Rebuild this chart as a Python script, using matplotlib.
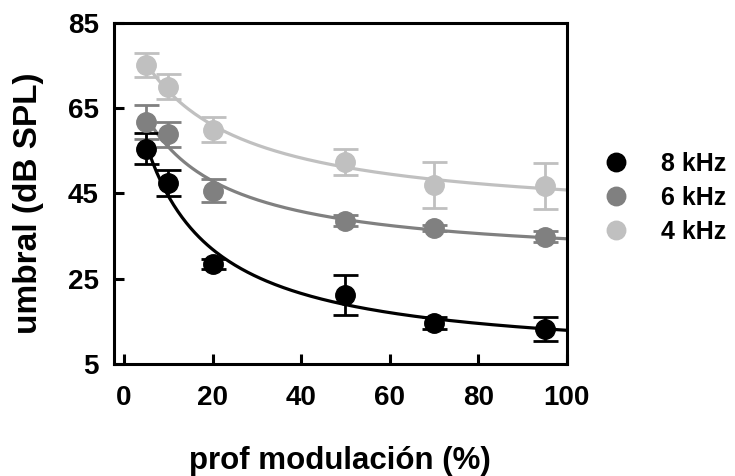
import numpy as np
import matplotlib
matplotlib.use("Agg")
import matplotlib.pyplot as plt

plt.rcParams['font.family'] = ['Liberation Sans', 'DejaVu Sans']
plt.rcParams['font.weight'] = 'bold'

# modulation depth (%) and thresholds (dB SPL) per carrier frequency
depth = [5, 10, 20, 50, 70, 95]
labels = ['8 kHz', '6 kHz', '4 kHz']
colors = ['#000000', '#808080', '#c0c0c0']

umbral_8k = [55.5, 47.5, 28.5, 21.2, 14.7, 13.3]
err_8k = [3.7, 3.0, 1.2, 4.7, 1.4, 2.8]
umbral_6k = [61.8, 58.9, 45.7, 38.6, 36.9, 34.9]
err_6k = [4.0, 2.9, 2.6, 1.3, 0.6, 1.2]
umbral_4k = [75.1, 70.0, 60.0, 52.4, 46.9, 46.7]
err_4k = [2.8, 2.9, 3.0, 3.1, 5.4, 5.4]

series = [(umbral_8k, err_8k), (umbral_6k, err_6k), (umbral_4k, err_4k)]


def hyperbolic_fit(x, y):
    # y = y0 + a*b/(b + x): scan b, solve y0 and a*b by least squares
    best = None
    for b in np.linspace(0.5, 200, 4000):
        A = np.column_stack([np.ones_like(x), 1.0 / (b + x)])
        coef, res, *_ = np.linalg.lstsq(A, y, rcond=None)
        sse = np.sum((A @ coef - y) ** 2)
        if best is None or sse < best[0]:
            best = (sse, b, coef)
    _, b, (y0, ab) = best
    return lambda t: y0 + ab / (b + t)


fig = plt.figure(figsize=(7.35, 4.76), dpi=100)
ax = fig.add_axes([0.155, 0.235, 0.616, 0.717])

x = np.array(depth, dtype=float)
xfit = np.linspace(5, 100, 200)
# draw light series first so black ends up on top
for (y, e), lab, c in reversed(list(zip(series, labels, colors))):
    y = np.array(y)
    f = hyperbolic_fit(x, y)
    ax.plot(xfit, f(xfit), color=c, lw=2.3, zorder=2)
    ax.errorbar(x, y, yerr=e, fmt='o', color=c, ms=14, elinewidth=2,
                capsize=9, capthick=2, zorder=3, label=lab)

ax.set_xlim(-2.3, 100)
ax.set_ylim(5, 85)
ax.set_xticks([0, 20, 40, 60, 80, 100])
ax.set_yticks([5, 25, 45, 65, 85])
ax.tick_params(direction='in', length=7, width=2.2, labelsize=20, pad=11)
ax.tick_params(axis='x', pad=15)
for s in ax.spines.values():
    s.set_linewidth(2.2)

ax.set_xlabel('prof modulación (%)', fontsize=22.5, fontweight='bold', labelpad=25)
ax.set_ylabel('umbral (dB SPL)', fontsize=24, fontweight='bold', labelpad=12)
ax.yaxis.set_label_coords(-0.155, 0.47)

h, l = ax.get_legend_handles_labels()
order = [l.index(n) for n in labels]
leg = fig.legend([h[i][0] for i in order], [l[i] for i in order],
                 loc='center left', bbox_to_anchor=(0.79, 0.585), frameon=False,
                 fontsize=18, handletextpad=1.3, labelspacing=0.4,
                 handlelength=1.0, markerscale=0.95)

fig.savefig('out.png', dpi=100)
